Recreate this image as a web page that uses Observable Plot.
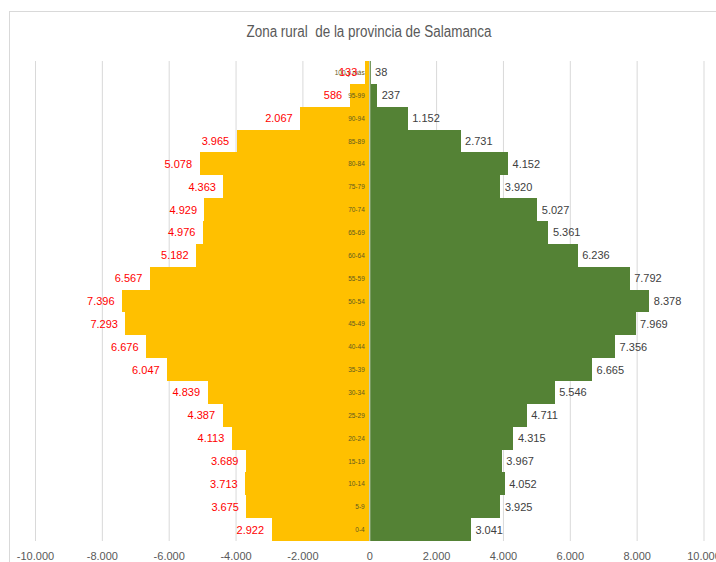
<!DOCTYPE html>
<html>
<head>
<meta charset="utf-8">
<script src="https://cdn.jsdelivr.net/npm/d3@7"></script>
<script src="https://cdn.jsdelivr.net/npm/@observablehq/plot@0.6"></script>
<style>
  html, body { margin: 0; padding: 0; background: #fff; }
  #wrap { position: relative; width: 716px; height: 562px; overflow: hidden; }
  #frame { position: absolute; left: 9px; top: 11px; width: 800px; height: 700px; border: 1px solid #d9d9d9; box-sizing: border-box; }
  #title { position: absolute; left: 0; width: 738px; top: 23px; text-align: center; font-family: "Liberation Sans", sans-serif; font-size: 16px; color: #595959; white-space: pre; transform: scaleX(0.84); transform-origin: 369px 0; }
  #chart { position: absolute; left: 0; top: 0; }
</style>
</head>
<body>
<div id="wrap">
  <div id="frame"></div>
  <div id="chart"></div>
  <div id="title">Zona rural  de la provincia de Salamanca</div>
</div>
<script>
const ages = ["0-4","5-9","10-14","15-19","20-24","25-29","30-34","35-39","40-44","45-49","50-54","55-59","60-64","65-69","70-74","75-79","80-84","85-89","90-94","95-99","100 y más"];
const leftValues = [2922,3675,3713,3689,4113,4387,4839,6047,6676,7293,7396,6567,5182,4976,4929,4363,5078,3965,2067,586,133];
const rightValues = [3041,3925,4052,3967,4315,4711,5546,6665,7356,7969,8378,7792,6236,5361,5027,3920,4152,2731,1152,237,38];
const xTicks = [-10000,-8000,-6000,-4000,-2000,0,2000,4000,6000,8000,10000];

const loc = d3.formatLocale({decimal: ",", thousands: ".", grouping: [3], currency: ["", " €"], minus: "-"});
const fmt = loc.format(",d");

const leftData = ages.map((a, i) => ({age: a, v: leftValues[i]}));
const rightData = ages.map((a, i) => ({age: a, v: rightValues[i]}));
const font = "Liberation Sans, sans-serif";

const chart = Plot.plot({
  width: 716,
  height: 562,
  marginLeft: 35,
  marginRight: 12.5,
  marginTop: 61,
  marginBottom: 21,
  style: {fontFamily: font, fontSize: "11px", color: "#595959", background: "transparent"},
  x: {domain: [-10000, 10000], ticks: xTicks, tickFormat: fmt, tickSize: 0, tickPadding: 11, label: null},
  y: {domain: ages.slice().reverse(), padding: 0, round: false, axis: null},
  marks: [
    Plot.gridX(xTicks, {stroke: "#d9d9d9", strokeOpacity: 1}),
    Plot.barX(leftData, {y: "age", x1: 0, x2: d => -d.v, fill: "#FFC000", shapeRendering: "crispEdges"}),
    Plot.barX(rightData, {y: "age", x1: 0, x2: d => d.v, fill: "#548235", shapeRendering: "crispEdges"}),
    Plot.ruleX([0], {stroke: "#e8e8e8", strokeWidth: 1}),
    Plot.text(ages, {x: 0, y: d => d, text: d => d, dx: -5, textAnchor: "end", fontSize: 6.5, fill: "#5f5a20"}),
    Plot.text(leftData, {x: d => -d.v, y: "age", text: d => fmt(d.v), dx: -8, textAnchor: "end", fill: "#ff0000", fontSize: 11}),
    Plot.text(rightData, {x: d => d.v, y: "age", text: d => fmt(d.v), dx: 4, textAnchor: "start", fill: "#404040", fontSize: 11})
  ]
});
document.getElementById("chart").appendChild(chart);
</script>
</body>
</html>
